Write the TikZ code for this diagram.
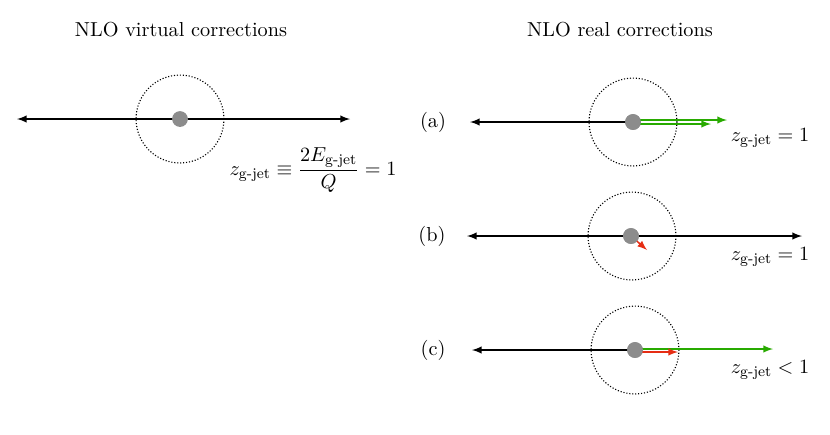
\documentclass[tikz,border=0pt,11pt]{standalone}
\usepackage{amsmath}
\usetikzlibrary{arrows}
\definecolor{jetgreen}{RGB}{40,170,0}
\definecolor{softred}{RGB}{230,45,20}
\definecolor{dotgray}{RGB}{140,140,140}
\tikzstyle{cone} = [
    circle,
    densely dotted,
    semithick,
    minimum size=16.7mm,
    inner sep=0pt,
    draw=black
]
\tikzstyle{parton} = [
    circle,
    minimum size=3mm,
    inner sep=0pt,
    fill=dotgray
]
\tikzstyle{beam} = [thick,>=latex]
\tikzstyle{gluon} = [thick,->,>=latex,draw=jetgreen]
\tikzstyle{soft} = [thick,->,>=latex,draw=softred]

\begin{document}
\begin{tikzpicture}[x=0.19mm,y=-0.19mm]
\useasboundingbox (0,0) rectangle (830,434);

\node (virt) at (181,30) {NLO virtual corrections};
\node (real) at (620,30) {NLO real corrections};

% virtual
\node (cv) [cone] at (180,119) {};
\coordinate (lv) at (17,119);
\coordinate (rv) at (350,119);
\draw [beam,<->] (lv) -- (rv);
\node (pv) [parton] at (180,119) {};
\node (zv) at (313,170) {$z_{\text{g-jet}} \equiv \dfrac{2E_{\text{g-jet}}}{Q} = 1$};

% (a)
\node (la) at (433,122) {(a)};
\node (ca) [cone] at (633,122) {};
\node (pa) [parton] at (633,122) {};
\coordinate (ea) at (470,122);
\coordinate (ga) at (727,120);
\coordinate (gb) at (711,124);
\draw [beam,->] (pa.center) -- (ea);
\draw [gluon] ([yshift=0.38mm]pa.center) -- (ga);
\draw [gluon] ([yshift=-0.38mm]pa.center) -- (gb);
\node [parton] at (pa) {};
\node (za) at (770,138) {$z_{\text{g-jet}} = 1$};

% (b)
\node (lb) at (432,236) {(b)};
\node (cb) [cone] at (632,236) {};
\coordinate (eb) at (467,236);
\coordinate (fb) at (802,236);
\coordinate (sb) at (647,250);
\draw [beam,<->] (eb) -- (fb);
\node (pb) [parton] at (631,236) {};
\draw [soft] (pb.center) -- (sb);
\node [parton] at (pb) {};
\node (zb) at (770,257) {$z_{\text{g-jet}} = 1$};

% (c)
\node (lc) at (433,350) {(c)};
\node (cc) [cone] at (635,350) {};
\node (pc) [parton] at (635,350) {};
\coordinate (ec) at (472,350);
\coordinate (gc) at (773,349);
\coordinate (sc) at (678,352);
\draw [beam,->] (pc.center) -- (ec);
\draw [gluon] ([yshift=0.19mm]pc.center) -- (gc);
\draw [soft] ([yshift=-0.38mm]pc.center) -- (sc);
\node [parton] at (pc) {};
\node (zc) at (770,370) {$z_{\text{g-jet}} < 1$};

\end{tikzpicture}
\end{document}
